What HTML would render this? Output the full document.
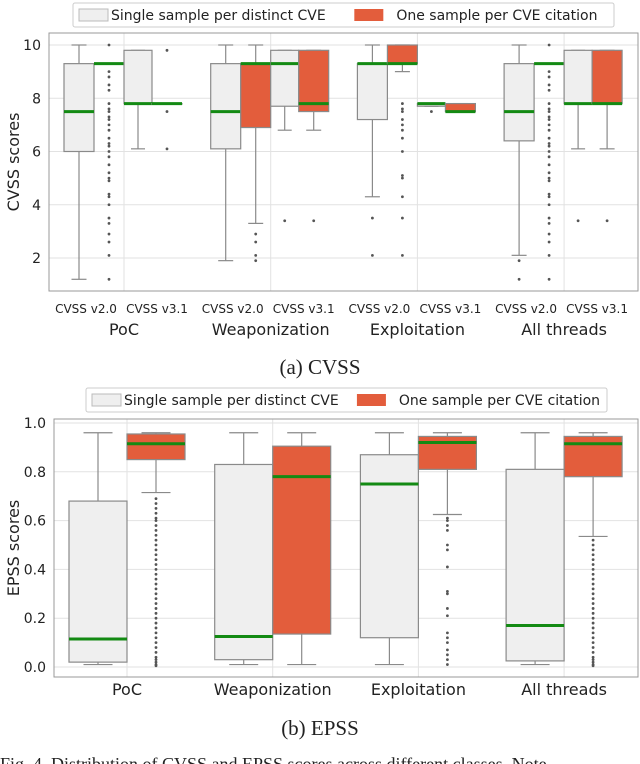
<!DOCTYPE html>
<html><head><meta charset="utf-8"><style>
html,body{margin:0;padding:0;background:#fff;width:640px;height:764px;overflow:hidden}
svg{display:block}
text{font-family:"DejaVu Sans","Liberation Sans",sans-serif;fill:#222}
.serif{font-family:"Liberation Serif",serif}
</style></head><body>
<svg id="svg" width="640" height="764" viewBox="0 0 640 764"></svg>
<script>
// ---- CVSS data: [whiskerLo, q1, median, q3, whiskerHi]
const cvssGroups = ["PoC","Weaponization","Exploitation","All threads"];
const cvssVersions = ["CVSS v2.0","CVSS v3.1"];
const cvssTicks = [2,4,6,8,10];
const denseCvss = [10,9,8.8,8.5,8.3,7.8,7.6,7.5,7.3,7.2,7.0,6.8,6.5,6.3,6.2,6.0,5.8,5.5,5.2,5.0,4.9,4.4,4.3,4.0,3.5,3.3,2.9,2.6,2.1,1.2];
const cvssSingleV2 = [[1.2,6.0,7.5,9.3,10],[1.9,6.1,7.5,9.3,10],[4.3,7.2,9.3,9.3,10],[2.1,6.4,7.5,9.3,10]];
const cvssCiteV2 = [[9.3,9.3,9.3,9.3,9.3],[3.3,6.9,9.3,9.3,10],[9.0,9.3,9.3,10,10],[9.3,9.3,9.3,9.3,9.3]];
const cvssSingleV3 = [[6.1,7.8,7.8,9.8,9.8],[6.8,7.7,9.3,9.8,9.8],[7.7,7.7,7.8,7.8,7.8],[6.1,7.8,7.8,9.8,9.8]];
const cvssCiteV3 = [[7.8,7.8,7.8,7.8,7.8],[6.8,7.5,7.8,9.8,9.8],[7.5,7.5,7.5,7.8,7.8],[6.1,7.8,7.8,9.8,9.8]];
const cvssOutSingleV2 = [[],[],[3.5,2.1],[1.9,1.2]];
const cvssOutCiteV2 = [denseCvss,[2.9,2.6,2.1,1.9],[7.8,7.6,7.5,7.2,7.0,6.8,6.5,6.0,5.1,5.0,4.3,3.5,2.1],denseCvss];
const cvssOutSingleV3 = [[],[3.4],[7.5],[3.4]];
const cvssOutCiteV3 = [[9.8,7.5,6.1],[3.4],[],[3.4]];
// ---- EPSS data
const epssGroups = ["PoC","Weaponization","Exploitation","All threads"];
const epssTicks = [0.0,0.2,0.4,0.6,0.8,1.0];
const epssSingle = [[0.01,0.02,0.115,0.68,0.96],[0.01,0.03,0.125,0.83,0.96],[0.01,0.12,0.75,0.87,0.96],[0.01,0.025,0.17,0.81,0.96]];
const epssCite = [[0.715,0.85,0.915,0.955,0.96],[0.01,0.135,0.78,0.905,0.96],[0.625,0.81,0.92,0.945,0.96],[0.535,0.78,0.915,0.945,0.96]];
const densePoc = [0.69,0.67,0.65,0.63,0.61,0.6,0.58,0.56,0.54,0.52,0.5,0.48,0.46,0.44,0.42,0.4,0.38,0.36,0.34,0.32,0.3,0.28,0.26,0.24,0.22,0.2,0.18,0.16,0.14,0.12,0.1,0.08,0.06,0.04,0.03,0.02,0.01,0.005];
const denseAll = [0.52,0.5,0.48,0.46,0.44,0.42,0.4,0.38,0.36,0.34,0.32,0.3,0.28,0.26,0.24,0.22,0.2,0.18,0.16,0.14,0.12,0.1,0.08,0.06,0.04,0.03,0.02,0.01,0.005];
const epssOutCite = [densePoc,[],[0.61,0.6,0.58,0.56,0.5,0.48,0.41,0.31,0.3,0.24,0.21,0.14,0.12,0.1,0.07,0.05,0.03,0.01],denseAll];

const NS="http://www.w3.org/2000/svg";
const svg=document.getElementById('svg');
function mk(tag,attrs,parent){const e=document.createElementNS(NS,tag);for(const k in attrs)e.setAttribute(k,attrs[k]);(parent||svg).appendChild(e);return e;}
function txt(s,x,y,size,anchor,parent,cls){const t=mk('text',{x:x,y:y,'font-size':size,'text-anchor':anchor||'middle'},parent);if(cls)t.setAttribute('class',cls);t.textContent=s;return t;}
const LIGHT="#efefef",RED="#e35d3c",EDGE="#8a8a8a",GREEN="#138a13";

function box(g,yf,x0,x1,d,fill,outs){
  const cx=(x0+x1)/2,w=(x1-x0);
  mk('line',{x1:cx,x2:cx,y1:yf(d[0]),y2:yf(d[1]),stroke:EDGE,'stroke-width':1.2},g);
  mk('line',{x1:cx,x2:cx,y1:yf(d[3]),y2:yf(d[4]),stroke:EDGE,'stroke-width':1.2},g);
  mk('line',{x1:cx-w/4,x2:cx+w/4,y1:yf(d[0]),y2:yf(d[0]),stroke:EDGE,'stroke-width':1.2},g);
  mk('line',{x1:cx-w/4,x2:cx+w/4,y1:yf(d[4]),y2:yf(d[4]),stroke:EDGE,'stroke-width':1.2},g);
  const r=mk('rect',{x:x0,y:yf(d[3]),width:w,height:Math.max(0.5,yf(d[1])-yf(d[3])),fill:fill,stroke:EDGE,'stroke-width':1.2},g);
  
  
  const m=mk('line',{x1:x0,x2:x1,y1:yf(d[2]),y2:yf(d[2]),stroke:GREEN,'stroke-width':3},g);
  
  
  (outs||[]).forEach(v=>{const c=mk('circle',{cx:cx,cy:yf(v),r:1.4,fill:'#555'},g);
    
    });
}
function legend(x,y,w,h,name){
  const g=mk('g',{});
  
  
  mk('rect',{x:x,y:y,width:w,height:h,fill:'#fff',stroke:'#ccc','stroke-width':1,rx:2},g);
  mk('rect',{x:x+6,y:y+h/2-6,width:29,height:12,fill:LIGHT,stroke:'#bbb'},g);
  txt("Single sample per distinct CVE",x+38,y+h/2+5,14,'start',g);
  mk('rect',{x:x+w*0.52,y:y+h/2-6,width:29,height:12,fill:RED},g);
  txt("One sample per CVE citation",x+w*0.52+42,y+h/2+5,14,'start',g);
}

// ===== Top chart (CVSS)
(function(){
  const L=49,R=638,T=33,B=291;
  const yf=v=>45+(10-v)*(258-45)/8;
  const g=mk('g',{});
  
  
  cvssTicks.forEach(t=>{mk('line',{x1:L,x2:R,y1:yf(t),y2:yf(t),stroke:'#e2e2e2'},g);
    const tl=txt(String(t),L-8,yf(t)+5,14,'end',g);
    
    });
  const centers=cvssGroups.map((_,i)=>124+i*146.7);
  centers.forEach(c=>mk('line',{x1:c,x2:c,y1:T,y2:B,stroke:'#e2e2e2'},g));
  mk('rect',{x:L,y:T,width:R-L,height:B-T,fill:'none',stroke:'#999'},g);
  centers.forEach((c,i)=>{
    box(g,yf,c-60,c-30,cvssSingleV2[i],LIGHT,cvssOutSingleV2[i]);
    box(g,yf,c-30,c,cvssCiteV2[i],RED,cvssOutCiteV2[i]);
    box(g,yf,c,c+28,cvssSingleV3[i],LIGHT,cvssOutSingleV3[i]);
    box(g,yf,c+28,c+58,cvssCiteV3[i],RED,cvssOutCiteV3[i]);
    txt(cvssVersions[0],c-38,313,12,'middle',g);
    txt(cvssVersions[1],c+33,313,12,'middle',g);
    const gl=txt(cvssGroups[i],c,335,16,'middle',g);
    
    
  });
  const yt=txt("CVSS scores",0,0,16,'middle',g);
  yt.setAttribute('transform','translate(19,162) rotate(-90)');
  
  
  legend(73,3,541,24,'cvss-legend');
  const cap=txt("(a) CVSS",320,374,21,'middle',g,'serif');
  
  
})();

// ===== Bottom chart (EPSS)
(function(){
  const L=54,R=638,T=419,B=677;
  const yf=v=>667-v*(667-423);
  const g=mk('g',{});
  
  
  epssTicks.forEach(t=>{mk('line',{x1:L,x2:R,y1:yf(t),y2:yf(t),stroke:'#e2e2e2'},g);
    const tl=txt(t.toFixed(1),L-8,yf(t)+5,14,'end',g);
    
    });
  const centers=epssGroups.map((_,i)=>127+i*145.7);
  centers.forEach(c=>mk('line',{x1:c,x2:c,y1:T,y2:B,stroke:'#e2e2e2'},g));
  mk('rect',{x:L,y:T,width:R-L,height:B-T,fill:'none',stroke:'#999'},g);
  centers.forEach((c,i)=>{
    box(g,yf,c-58,c,epssSingle[i],LIGHT,[]);
    box(g,yf,c,c+58,epssCite[i],RED,epssOutCite[i]);
    const gl=txt(epssGroups[i],c,695,16,'middle',g);
    
    
  });
  const yt=txt("EPSS scores",0,0,16,'middle',g);
  yt.setAttribute('transform','translate(19,548) rotate(-90)');
  
  
  legend(86,388,521,24,'epss-legend');
  const cap=txt("(b) EPSS",320,735,21,'middle',g,'serif');
  
  
  const fc=txt("Fig. 4.  Distribution of CVSS and EPSS scores across different classes. Note",0,770,18,'start',g,'serif');
  
  
})();
</script>
</body></html>
